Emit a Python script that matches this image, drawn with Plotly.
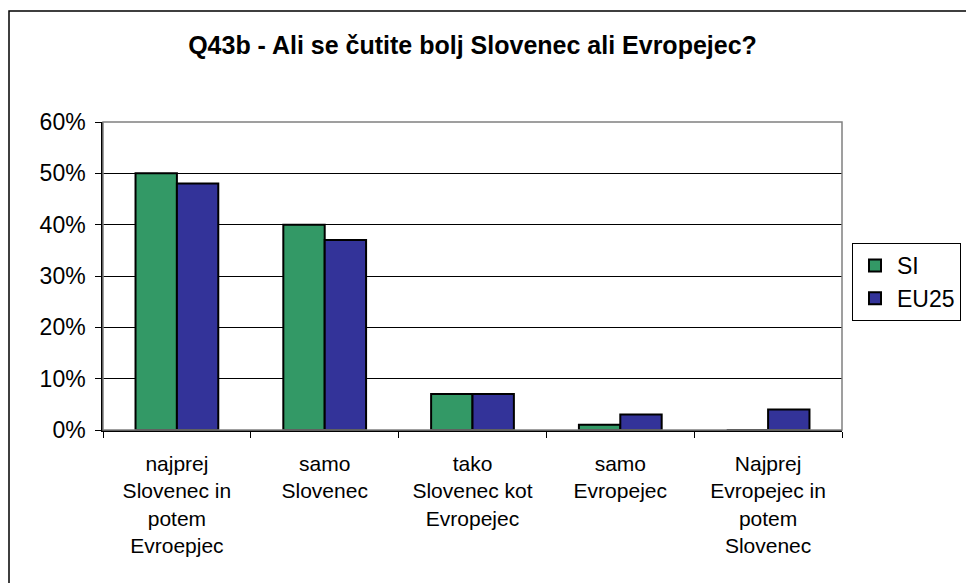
import plotly.graph_objects as go

categories = [
    "najprej<br>Slovenec in<br>potem<br>Evroepjec",
    "samo<br>Slovenec",
    "tako<br>Slovenec kot<br>Evropejec",
    "samo<br>Evropejec",
    "Najprej<br>Evropejec in<br>potem<br>Slovenec",
]
si_values = [0.50, 0.40, 0.07, 0.01, 0.0]
eu25_values = [0.48, 0.37, 0.07, 0.03, 0.04]
y_ticks = [0, 0.1, 0.2, 0.3, 0.4, 0.5, 0.6]

W, H = 966, 583
L, R, T, B = 103, 842, 122, 430

fig = go.Figure()
fig.add_trace(go.Bar(x=categories, y=si_values, name="SI",
                     marker=dict(color="#339966", line=dict(color="black", width=2))))
fig.add_trace(go.Bar(x=categories, y=eu25_values, name="EU25",
                     marker=dict(color="#333399", line=dict(color="black", width=2))))

pw, ph = R - L, B - T
# outer chart frame
fig.add_shape(type="rect", xref="paper", yref="paper", layer="below",
              x0=(9 - L) / pw, x1=(990 - L) / pw, y0=(B - 600) / ph, y1=(B - 11) / ph,
              line=dict(color="black", width=1.5), fillcolor="rgba(0,0,0,0)")
# plot area border (top/right grey)
fig.add_shape(type="rect", xref="paper", yref="paper",
              x0=0, x1=1, y0=0, y1=1, line=dict(color="#808080", width=1.5))

fig.update_layout(
    width=W, height=H,
    margin=dict(l=L, r=W - R, t=T, b=H - B, autoexpand=False),
    paper_bgcolor="white", plot_bgcolor="white",
    font=dict(family="Arial, Liberation Sans", size=23, color="black"),
    title=dict(text="<b>Q43b - Ali se čutite bolj Slovenec ali Evropejec?</b>",
               x=0.5, xref="paper", y=1 - 45 / H, yanchor="middle",
               font=dict(size=25)),
    barmode="group", bargap=0.44, bargroupgap=0,
    legend=dict(xref="container", yref="container",
                x=852 / W, xanchor="left", y=(H - 282) / H, yanchor="middle",
                bordercolor="black", borderwidth=1, bgcolor="white",
                font=dict(size=23), itemwidth=34, tracegroupgap=4),
    showlegend=True,
)
fig.update_yaxes(range=[0, 0.6], tickvals=y_ticks, tickformat=".0%",
                 showgrid=True, gridcolor="black", gridwidth=1,
                 showline=True, linecolor="black", linewidth=1.5,
                 ticks="outside", ticklen=6, tickcolor="black",
                 ticklabelstandoff=5,
                 tickfont=dict(size=23), zeroline=False)
fig.update_xaxes(showline=True, linecolor="black", linewidth=1.5,
                 ticks="outside", ticklen=6, tickcolor="black",
                 tickson="boundaries", ticklabelstandoff=14,
                 tickfont=dict(size=21), tickangle=0)

fig.write_html("out.html", config={"displayModeBar": False},
               post_script="document.body.style.margin='0';")
